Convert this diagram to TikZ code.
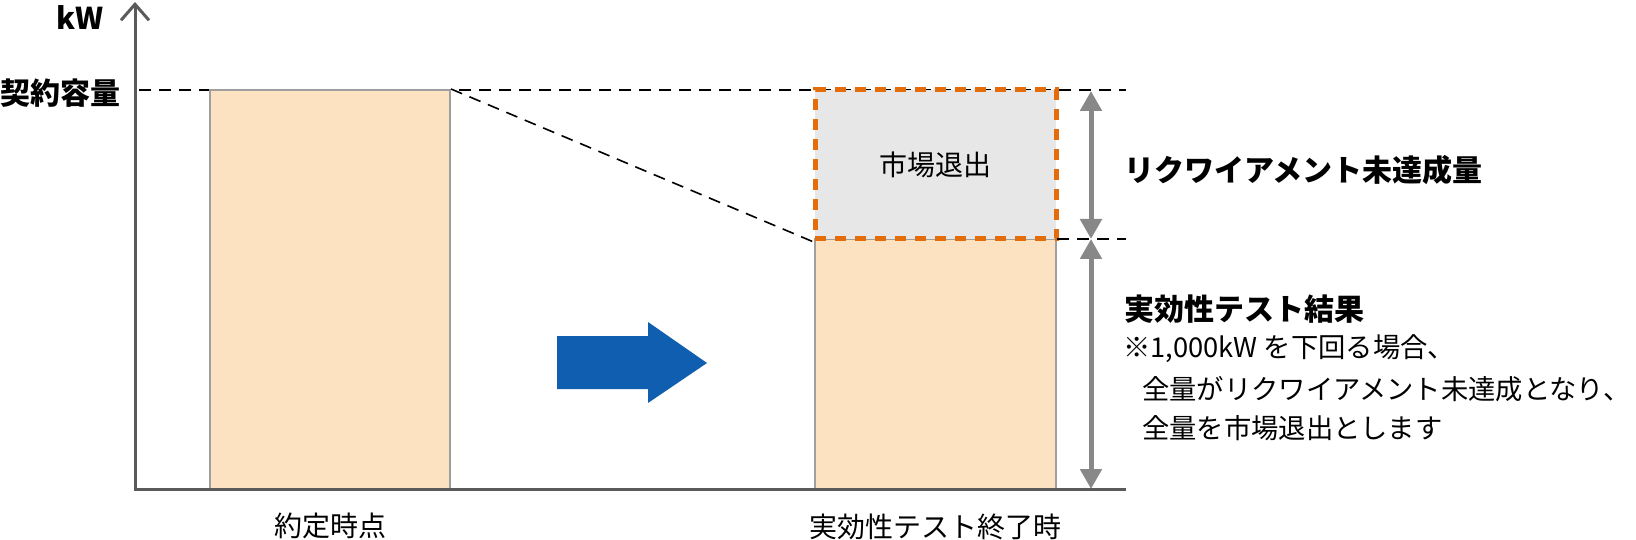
\documentclass[tikz,border=0pt]{standalone}
\usepackage{fontspec}
\setmainfont{Noto Sans CJK JP}
\usepackage{tikz}
\usetikzlibrary{arrows.meta}
\definecolor{peach}{RGB}{253,226,193}
\definecolor{exitgray}{RGB}{230,231,230}
\definecolor{exitorange}{RGB}{228,108,10}
\definecolor{axisgray}{RGB}{90,90,90}
\definecolor{dimgray}{RGB}{136,136,136}
\definecolor{shiftblue}{RGB}{16,94,176}
\tikzstyle{barcell} = [rectangle, draw=gray!75, line width=2pt, fill=peach, inner sep=0pt]
\tikzstyle{exitcell} = [rectangle, draw=exitorange, line width=5pt, dash pattern=on 11pt off 9pt, fill=exitgray, inner sep=0pt, font=\fontsize{28}{34}\selectfont]
\tikzstyle{guide} = [draw=black, line width=1.6pt, dash pattern=on 12pt off 8pt]
\tikzstyle{axis} = [draw=axisgray, line width=3pt]
\tikzstyle{dim} = [draw=dimgray, line width=5pt, {Triangle[length=20pt,width=21pt]}-{Triangle[length=20pt,width=21pt]}]
\tikzstyle{headlabel} = [inner sep=0pt, font=\fontsize{30}{36}\selectfont\bfseries]
\tikzstyle{caption} = [inner sep=0pt, font=\fontsize{28}{34}\selectfont]
\tikzstyle{notetext} = [inner sep=0pt, font=\fontsize{27.3}{34}\selectfont]

\begin{document}
\begin{tikzpicture}[x=1pt, y=-1pt]
\useasboundingbox (0,0) rectangle (1636,540);
% Axis and guide points
\coordinate (origin) at (135,489);
\coordinate (ytop) at (135,2);
\coordinate (xend) at (1126,489);
\coordinate (capL) at (139,90);
\coordinate (capR) at (1126,90);
\coordinate (testR) at (1126,239);
\coordinate (dimtop) at (1091,91);
\coordinate (dimmid) at (1091,239);
\coordinate (dimbot) at (1091,489);
% Contract capacity guide line
\draw[guide] (capL) -- (capR);
% Bars: at contract, after the test
\node[barcell, minimum width=240pt, minimum height=399pt] (signed) at (330,289.5) {};
\node[barcell, minimum width=241pt, minimum height=250pt] (tested) at (935.5,364) {};
\node[exitcell, minimum width=241pt, minimum height=149pt] (exit) at (935.5,164.5) {市場退出};
% Drop from contract to test result
\draw[guide] (signed.north east) -- (exit.south west);
\draw[guide] (testR -| tested.east) -- (testR);
% Axes
\draw[axis, {Straight Barb[length=16pt,width=28pt]}-] (ytop) -- (origin) -- (xend);
% Transition arrow
\fill[shiftblue] (557,336) -- (648,336) -- (648,322) -- (707,363) -- (648,403) -- (648,389) -- (557,389) -- cycle;
% Dimension arrows
\draw[dim] (dimtop) -- (dimmid);
\draw[dim] (dimmid) -- (dimbot);
% Labels
\node[headlabel] (unit) at (80,18) {kW};
\node[headlabel, anchor=west] (capacity) at (0,93) {契約容量};
\node[caption] (signedlabel) at (330,526) {約定時点};
\node[caption] (testedlabel) at (935,527) {実効性テスト終了時};
\node[headlabel, anchor=west] (shortfall) at (1124,170) {リクワイアメント未達成量};
\node[headlabel, anchor=west] (result) at (1124,309) {実効性テスト結果};
\node[notetext, anchor=west] (note) at (1123,349) {※1,000kW を下回る場合、};
\node[notetext, anchor=west] (note2) at (1142,389) {全量がリクワイアメント未達成となり、};
\node[notetext, anchor=west] (note3) at (1142,428) {全量を市場退出とします};
\end{tikzpicture}
\end{document}
